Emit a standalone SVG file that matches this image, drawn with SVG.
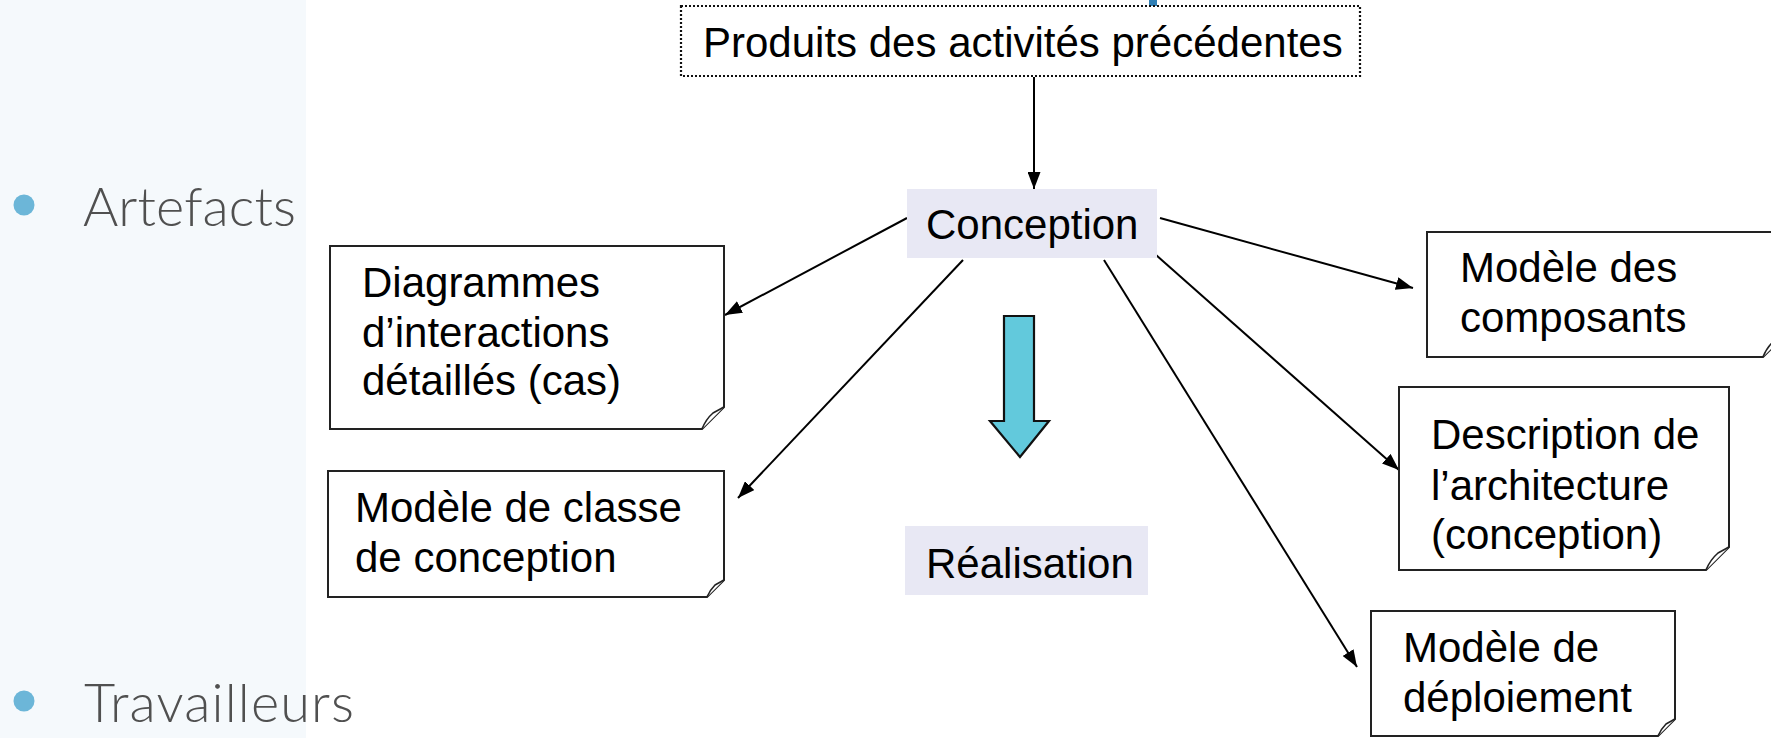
<svg xmlns="http://www.w3.org/2000/svg" width="1771" height="738" viewBox="0 0 1771 738">
  <style>
    .bullet-text { font-family: Lato, "Open Sans", sans-serif; font-weight: 300; font-size: 54px; fill: #505050; }
    .bullet { fill: #6cb6d8; }
    .label { font-family: "Liberation Sans", Arial, sans-serif; font-size: 42px; fill: #000; }
    .note { fill: #fff; stroke: #222; stroke-width: 2; }
    .curl { fill: #fff; stroke: #222; stroke-width: 1.6; stroke-linejoin: round; }
    .activity { fill: #e8e8f4; }
    .edge { stroke: #000; stroke-width: 2; fill: none; marker-end: url(#arrow); }
  </style>
  <defs>
    <marker id="arrow" markerUnits="userSpaceOnUse" markerWidth="17" markerHeight="13" refX="17" refY="6.5" orient="auto">
      <path d="M0,0 L17,6.5 L0,13 Z" fill="#000"/>
    </marker>
  </defs>

  <!-- page background and side panel -->
  <rect x="0" y="0" width="1771" height="738" fill="#fff"/>
  <rect x="0" y="0" width="306" height="738" fill="#f5f9fc"/>
  <rect x="1149" y="0" width="8" height="10" fill="#2f7fb5"/>

  <!-- bullet list -->
  <g id="bullet-artefacts">
    <circle class="bullet" cx="24" cy="205" r="10.5"/>
    <text class="bullet-text" x="83" y="226" textLength="213" lengthAdjust="spacing">Artefacts</text>
  </g>
  <g id="bullet-travailleurs">
    <circle class="bullet" cx="24" cy="701" r="10.5"/>
    <text class="bullet-text" x="84" y="722" textLength="270" lengthAdjust="spacing">Travailleurs</text>
  </g>

  <!-- connectors -->
  <g id="connectors">
    <line class="edge" x1="1034" y1="77" x2="1034" y2="189"/>
    <line class="edge" x1="907" y1="218" x2="725" y2="315"/>
    <line class="edge" x1="963" y1="260" x2="738" y2="498"/>
    <line class="edge" x1="1160" y1="218" x2="1413" y2="288"/>
    <line class="edge" x1="1147" y1="247" x2="1399" y2="470"/>
    <line class="edge" x1="1104" y1="260" x2="1357" y2="667"/>
  </g>

  <!-- inputs -->
  <g id="produits">
    <rect x="681" y="6" width="679" height="70" fill="#fff" stroke="#111" stroke-width="2.2" stroke-dasharray="2 2"/>
    <text class="label" x="703" y="57">Produits des activités précédentes</text>
  </g>

  <!-- activities -->
  <g id="conception">
    <rect class="activity" x="907" y="189" width="250" height="69"/>
    <text class="label" x="926" y="239">Conception</text>
  </g>
  <g id="realisation">
    <rect class="activity" x="905" y="526" width="243" height="69"/>
    <text class="label" x="926" y="578">Réalisation</text>
  </g>

  <!-- flow arrow between activities -->
  <g id="flow-arrow">
    <path d="M1004,316 H1034 V421 H1049 L1020,457 L990,421 H1004 Z" fill="#62c9dc" stroke="#111" stroke-width="2.2" stroke-linejoin="miter"/>
  </g>

  <!-- artefacts (notes with folded corner) -->
  <g id="diagrammes">
    <path class="note" d="M330,246 H724 V407 L702,429 H330 Z"/>
    <path class="curl" d="M724,407 L713,413 Q706,419 702,429"/>
    <text class="label" x="362" y="297">Diagrammes</text>
    <text class="label" x="362" y="347">d’interactions</text>
    <text class="label" x="362" y="395">détaillés (cas)</text>
  </g>
  <g id="classe">
    <path class="note" d="M328,471 H724 V580 L707,597 H328 Z"/>
    <path class="curl" d="M724,580 L715,585 Q710,590 707,597"/>
    <text class="label" x="355" y="522">Modèle de classe</text>
    <text class="label" x="355" y="572">de conception</text>
  </g>
  <g id="composants">
    <path class="note" d="M1427,232 H1785 V335 L1763,357 H1427 Z"/>
    <path class="curl" d="M1785,335 L1774,341 Q1767,347 1763,357"/>
    <text class="label" x="1460" y="282">Modèle des</text>
    <text class="label" x="1460" y="332">composants</text>
  </g>
  <g id="architecture">
    <path class="note" d="M1399,387 H1729 V547 L1706,570 H1399 Z"/>
    <path class="curl" d="M1729,547 L1718,553 Q1710,560 1706,570"/>
    <text class="label" x="1431" y="449">Description de</text>
    <text class="label" x="1431" y="500">l’architecture</text>
    <text class="label" x="1431" y="549">(conception)</text>
  </g>
  <g id="deploiement">
    <path class="note" d="M1371,611 H1675 V719 L1658,736 H1371 Z"/>
    <path class="curl" d="M1675,719 L1666,724 Q1661,729 1658,736"/>
    <text class="label" x="1403" y="662">Modèle de</text>
    <text class="label" x="1403" y="712">déploiement</text>
  </g>
</svg>
